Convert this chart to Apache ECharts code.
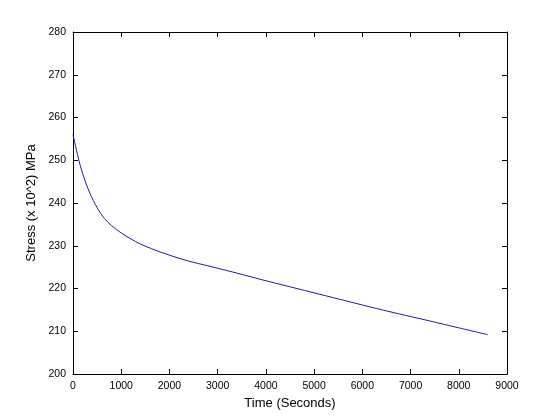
<!DOCTYPE html>
<html><head><meta charset="utf-8">
<script src="https://cdn.jsdelivr.net/npm/echarts@6/dist/echarts.min.js"></script>
<style>html,body{margin:0;padding:0;background:#fff}#c{width:560px;height:420px}</style>
</head><body><div id="c"></div>
<script>
const times = [0,25,75,150,250,350,500,650,800,1000,1200,1400,1700,2000,2400,2800,3400,3900,4500,5100,5700,6300,6900,7400,8000,8600];
const stress = [256.0,254.7,252.2,248.8,245.2,242.3,238.9,236.4,234.7,233.0,231.6,230.4,229.0,227.8,226.4,225.3,223.6,222.1,220.4,218.7,217.0,215.3,213.7,212.4,210.8,209.2];
const xTitle = 'Time (Seconds)';
const yTitle = 'Stress (x 10^2) MPa';

const family = 'Liberation Sans, Arial, sans-serif';
const tickFont = {fontFamily:family, fontSize:10.5, color:'#000'};
const nameFont = {fontFamily:family, fontSize:13, color:'#000'};
const axLine = {show:true, onZero:false, lineStyle:{color:'#000', width:1}};
const tick = {show:true, inside:true, length:5, lineStyle:{color:'#000', width:1}};
const chart = echarts.init(document.getElementById('c'), null, {renderer:'canvas'});
chart.setOption({
  animation:false,
  backgroundColor:'#fff',
  grid:{left:73, right:53, top:32, bottom:46, containLabel:false},
  xAxis:[{
    type:'value', min:0, max:9000, interval:1000,
    name:xTitle, nameLocation:'middle', nameGap:19, nameTextStyle:nameFont,
    axisLine:axLine, axisTick:tick, splitLine:{show:false},
    axisLabel:Object.assign({margin:7, formatter:v=>String(v)}, tickFont)
  },{
    type:'value', position:'top', min:0, max:9000, interval:1000,
    axisLine:axLine, axisTick:tick, splitLine:{show:false}, axisLabel:{show:false}
  }],
  yAxis:[{
    type:'value', min:200, max:280, interval:10,
    name:yTitle, nameLocation:'middle', nameGap:27, nameRotate:90, nameTextStyle:nameFont,
    axisLine:axLine, axisTick:tick, splitLine:{show:false},
    axisLabel:Object.assign({margin:7, formatter:v=>String(v)}, tickFont)
  },{
    type:'value', position:'right', min:200, max:280, interval:10,
    axisLine:axLine, axisTick:tick, splitLine:{show:false}, axisLabel:{show:false}
  }],
  series:[{
    type:'line', data:times.map((t,i)=>[t,stress[i]]),
    smooth:0.3, showSymbol:false, symbol:'none',
    lineStyle:{color:'#1a1aa8', width:1}
  }]
});
</script></body></html>
